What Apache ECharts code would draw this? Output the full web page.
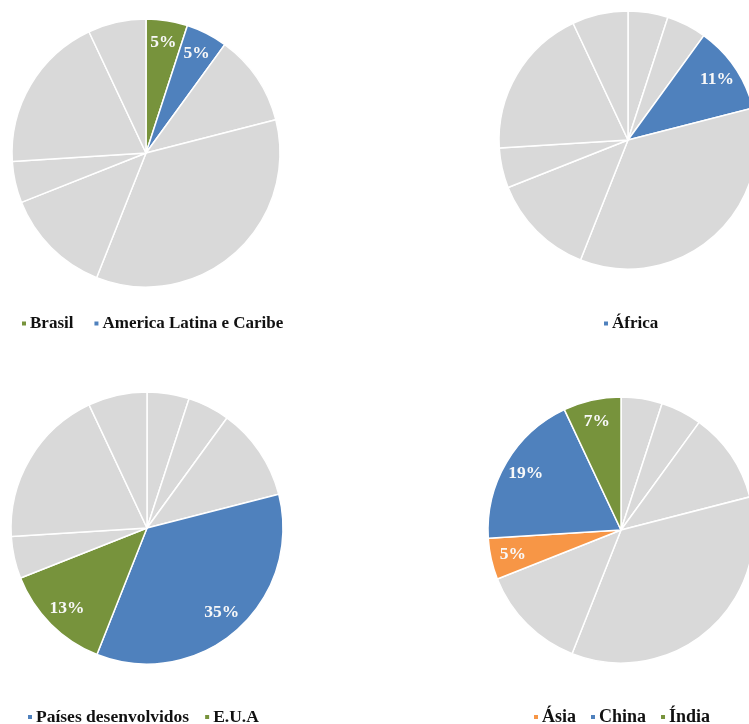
<!DOCTYPE html>
<html><head><meta charset="utf-8">
<script src="https://cdn.jsdelivr.net/npm/echarts@6/dist/echarts.min.js"></script>
<style>html,body{margin:0;padding:0;background:#fff}#c{width:749px;height:724px}</style>
</head><body><div id="c"></div>
<script>
// ---- data ----
const regions = ['Brasil', 'America Latina e Caribe', 'África', 'Países desenvolvidos', 'E.U.A', 'Ásia', 'China', 'Índia'];
const shares = [5, 5, 11, 35, 13, 5, 19, 7];
const panel1Items = ['Brasil', 'America Latina e Caribe'];
const panel2Items = ['África'];
const panel3Items = ['Países desenvolvidos', 'E.U.A'];
const panel4Items = ['Ásia', 'China', 'Índia'];

// ---- styles ----
const GREEN = '#77933c', BLUE = '#4f81bd', ORANGE = '#f79646', GREY = '#d9d9d9';
const itemColors = {
  'Brasil': GREEN, 'America Latina e Caribe': BLUE, 'África': BLUE,
  'Países desenvolvidos': BLUE, 'E.U.A': GREEN, 'Ásia': ORANGE, 'China': BLUE, 'Índia': GREEN
};
const panels = [
  { items: panel1Items, center: [146, 153], r: 134, legend: { left: 20, top: 315, itemGap: 19, fs: 17 } },
  { items: panel2Items, center: [628, 140], r: 129, legend: { left: 602, top: 315, itemGap: 12, fs: 17 } },
  { items: panel3Items, center: [147, 528], r: 136, legend: { left: 26, top: 708, itemGap: 14, fs: 17.5 } },
  { items: panel4Items, center: [621, 530], r: 133, legend: { left: 532, top: 708, itemGap: 13, fs: 18 } }
];
const FONT = "'Liberation Serif', 'Times New Roman', serif";

const series = [];
const legends = [];
panels.forEach((p, i) => {
  const baseData = regions.map((name, k) => ({
    name, value: shares[k],
    itemStyle: { color: p.items.includes(name) ? itemColors[name] : GREY }
  }));
  const labelData = regions.map((name, k) => ({
    name, value: shares[k],
    label: { show: p.items.includes(name) }
  }));
  series.push({
    type: 'pie', center: p.center, radius: p.r, startAngle: 90, clockwise: true,
    silent: true, animation: false, avoidLabelOverlap: false,
    itemStyle: { borderColor: '#fff', borderWidth: 1.5 },
    label: { show: false }, labelLine: { show: false },
    emphasis: { disabled: true },
    data: baseData
  });
  series.push({
    type: 'pie', center: p.center, radius: [p.r * 0.62, p.r], startAngle: 90, clockwise: true,
    silent: true, animation: false, avoidLabelOverlap: false,
    itemStyle: { color: 'rgba(0,0,0,0)', borderWidth: 0 },
    label: { position: 'inside', formatter: '{c}%', color: '#f8f8f8', fontFamily: FONT, fontWeight: 'bold', fontSize: 17.5 },
    labelLine: { show: false },
    emphasis: { disabled: true },
    data: labelData
  });
  legends.push({
    left: p.legend.left, top: p.legend.top, itemGap: p.legend.itemGap, padding: 0,
    icon: 'rect', itemWidth: 6, itemHeight: 6,
    selectedMode: false,
    textStyle: { fontFamily: FONT, fontWeight: 'bold', fontSize: p.legend.fs, color: '#111', padding: [0, 0, 0, -2] },
    data: p.items.map(n => ({ name: n, itemStyle: { color: itemColors[n] } }))
  });
});

const chart = echarts.init(document.getElementById('c'), null, { renderer: 'canvas' });
chart.setOption({ backgroundColor: '#fff', animation: false, legend: legends, series });
</script>
</body></html>
